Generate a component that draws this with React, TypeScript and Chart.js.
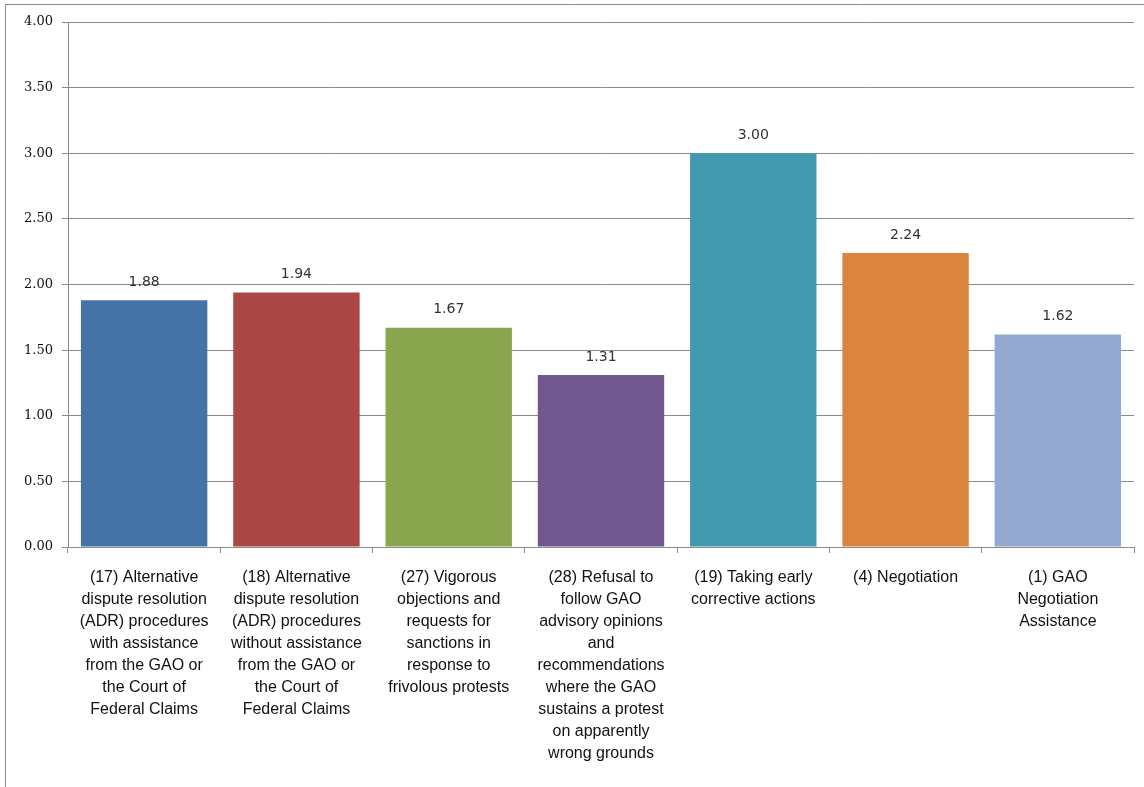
import React, { useEffect, useRef } from "react";
import { Chart, registerables } from "chart.js";

Chart.register(...registerables);

const categories: string[][] = [
  ["(17) Alternative", "dispute resolution", "(ADR) procedures", "with assistance", "from the GAO or", "the Court of", "Federal Claims"],
  ["(18) Alternative", "dispute resolution", "(ADR) procedures", "without assistance", "from the GAO or", "the Court of", "Federal Claims"],
  ["(27) Vigorous", "objections and", "requests for", "sanctions in", "response to", "frivolous protests"],
  ["(28) Refusal to", "follow GAO", "advisory opinions", "and", "recommendations", "where the GAO", "sustains a protest", "on apparently", "wrong grounds"],
  ["(19) Taking early", "corrective actions"],
  ["(4) Negotiation"],
  ["(1) GAO", "Negotiation", "Assistance"],
];
const values: number[] = [1.88, 1.94, 1.67, 1.31, 3.0, 2.24, 1.62];
const barColors: string[] = ["#4572A7", "#AA4643", "#89A54E", "#71588F", "#4198AF", "#DB843D", "#93A9CF"];
const yTicks: number[] = [0, 0.5, 1, 1.5, 2, 2.5, 3, 3.5, 4];

const PLOT_LEFT = 68;
const PLOT_TOP = 22;
const PLOT_RIGHT = 1134;
const PLOT_BOTTOM = 547;
const W = 1144;
const H = 787;

const extras = {
  id: "extras",
  afterDatasetsDraw(chart: any) {
    const ctx = chart.ctx;
    const meta = chart.getDatasetMeta(0);
    ctx.save();
    ctx.font = "14px 'DejaVu Sans'";
    ctx.fillStyle = "#333333";
    ctx.textAlign = "center";
    ctx.textBaseline = "middle";
    meta.data.forEach((bar: any, i: number) => {
      ctx.fillText(values[i].toFixed(2), bar.x, bar.y - 18);
    });
    ctx.restore();
  },
  afterDraw(chart: any) {
    const ctx = chart.ctx;
    ctx.save();
    ctx.strokeStyle = "#8a8a8a";
    ctx.lineWidth = 1;
    ctx.beginPath();
    ctx.moveTo(5.5, H);
    ctx.lineTo(5.5, 4.5);
    ctx.lineTo(W, 4.5);
    ctx.stroke();
    ctx.restore();
  },
};

export default function App() {
  const ref = useRef<HTMLCanvasElement | null>(null);
  useEffect(() => {
    if (!ref.current) return;
    const chart = new Chart(ref.current, {
      type: "bar",
      data: {
        labels: categories,
        datasets: [
          {
            data: values,
            backgroundColor: barColors,
            borderWidth: 0,
            barPercentage: 0.83,
            categoryPercentage: 1,
          },
        ],
      },
      options: {
        animation: false,
        responsive: false,
        maintainAspectRatio: false,
        layout: { padding: { left: 0, top: PLOT_TOP, right: W - PLOT_RIGHT, bottom: 0 } },
        plugins: { legend: { display: false }, tooltip: { enabled: false } },
        scales: {
          x: {
            afterFit: (s: any) => {
              s.height = H - PLOT_BOTTOM;
            },
            grid: {
              drawOnChartArea: false,
              drawTicks: true,
              tickLength: 6,
              color: "#8a8a8a",
              offset: true,
            },
            border: { color: "#8a8a8a" },
            ticks: {
              color: "#111111",
              font: { family: "'Liberation Sans', Arial, sans-serif", size: 16, lineHeight: 1.375 },
              padding: 14,
              maxRotation: 0,
              autoSkip: false,
            },
          },
          y: {
            min: 0,
            max: 4,
            afterFit: (s: any) => {
              s.width = PLOT_LEFT;
            },
            afterBuildTicks: (s: any) => {
              s.ticks = yTicks.map((v) => ({ value: v }));
            },
            grid: { color: "#8a8a8a", tickLength: 6 },
            border: { color: "#8a8a8a" },
            ticks: {
              color: "#111111",
              font: { family: "'DejaVu Serif', serif", size: 13 },
              padding: 9,
              callback: (v: any) => Number(v).toFixed(2),
            },
          },
        },
      },
      plugins: [extras],
    });
    return () => chart.destroy();
  }, []);
  return (
    <div style={{ position: "fixed", left: 0, top: 0, width: W, height: H, background: "#fff" }}>
      <canvas ref={ref} width={W} height={H} style={{ display: "block", width: W, height: H }} />
    </div>
  );
}
